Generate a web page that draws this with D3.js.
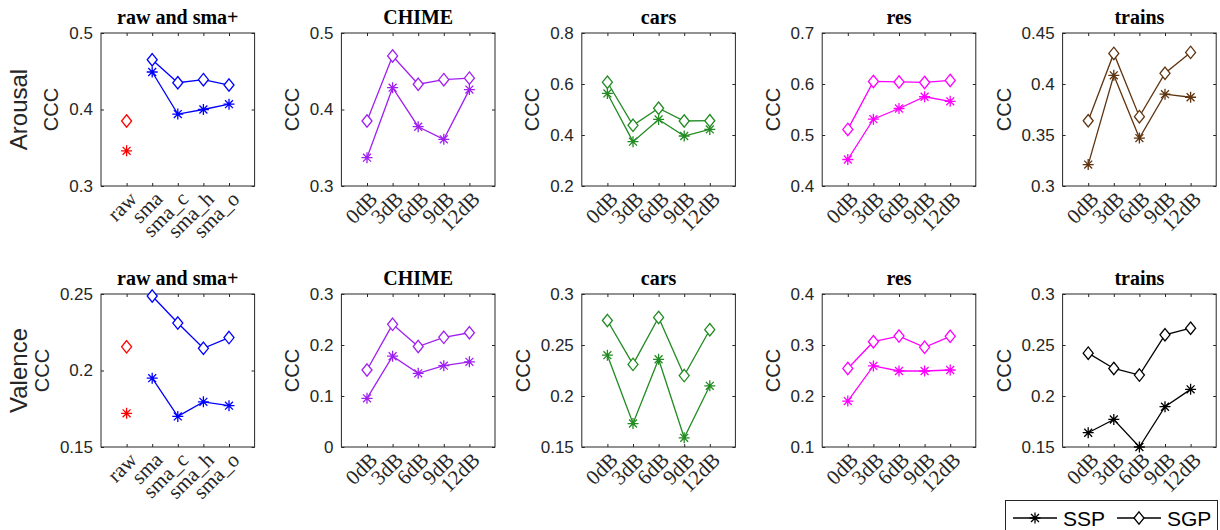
<!DOCTYPE html>
<html lang="en">
<head>
  <meta charset="UTF-8">
  <title>CCC per noise type</title>
  <script src="https://cdn.jsdelivr.net/npm/d3@7"></script>
  <style>
  body { margin: 0; background: #fff; }
  .tick line { stroke: #262626; }
  .ytick text { font-family: "Liberation Sans", Arial, sans-serif; font-size: 17px; fill: #262626; }
  .xtick text { font-family: "Liberation Serif", "Times New Roman", serif; font-size: 21px; fill: #262626; }
  .title { font-family: "Liberation Serif", "Times New Roman", serif; font-size: 20px; font-weight: bold; fill: #000; }
  .ylab { font-family: "Liberation Sans", Arial, sans-serif; font-size: 20px; fill: #262626; }
  .rowlab { font-family: "Liberation Sans", Arial, sans-serif; font-size: 24px; fill: #262626; }
  .legend text { font-family: "Liberation Sans", Arial, sans-serif; font-size: 21px; fill: #000; }
  </style>
</head>
<body>
<svg id="chart" width="1220" height="530"></svg>
<script>
// panel titles and x categories
const panelTitles = ['raw and sma+', 'CHIME', 'cars', 'res', 'trains'];
const rawSmaLabels = ['raw', 'sma', 'sma_c', 'sma_h', 'sma_o'];
const snrLabels = ['0dB', '3dB', '6dB', '9dB', '12dB'];
const rowLabels = ['Arousal', 'Valence'];

// y tick values per panel
const arousalTicks = [[0.3, 0.4, 0.5], [0.3, 0.4, 0.5], [0.2, 0.4, 0.6, 0.8], [0.4, 0.5, 0.6, 0.7], [0.3, 0.35, 0.4, 0.45]];
const valenceTicks = [[0.15, 0.2, 0.25], [0, 0.1, 0.2, 0.3], [0.15, 0.2, 0.25, 0.3], [0.1, 0.2, 0.3, 0.4], [0.15, 0.2, 0.25, 0.3]];

// Arousal (first panel: raw, then sma variants)
const arousalSSP = [
  [0.346, 0.449, 0.394, 0.400, 0.407],
  [0.337, 0.4285, 0.3775, 0.361, 0.426],
  [0.563, 0.374, 0.461, 0.396, 0.422],
  [0.452, 0.531, 0.552, 0.575, 0.566],
  [0.321, 0.4085, 0.347, 0.390, 0.387]
];
const arousalSGP = [
  [0.385, 0.465, 0.435, 0.439, 0.432],
  [0.385, 0.470, 0.433, 0.439, 0.441],
  [0.607, 0.438, 0.505, 0.455, 0.456],
  [0.511, 0.605, 0.604, 0.603, 0.607],
  [0.364, 0.430, 0.368, 0.4105, 0.431]
];
// Valence
const valenceSSP = [
  [0.172, 0.195, 0.170, 0.1795, 0.177],
  [0.0955, 0.178, 0.1445, 0.1595, 0.167],
  [0.240, 0.173, 0.236, 0.159, 0.210],
  [0.190, 0.259, 0.249, 0.249, 0.251],
  [0.164, 0.177, 0.150, 0.1895, 0.2065]
];
const valenceSGP = [
  [0.2155, 0.2487, 0.231, 0.2145, 0.2215],
  [0.151, 0.2405, 0.197, 0.215, 0.224],
  [0.274, 0.231, 0.277, 0.220, 0.265],
  [0.254, 0.3065, 0.3175, 0.2955, 0.317],
  [0.242, 0.227, 0.2205, 0.260, 0.2665]
];

const arousalColors = ['#0000ff', '#a020f0', '#228b22', '#ff00ff', '#5f3410'];
const valenceColors = ['#0000ff', '#a020f0', '#228b22', '#ff00ff', '#000000'];
const rawColor = '#ff0000';

const svg = d3.select('#chart');
const axisColor = '#262626';
const panelW = 153.6, panelH = 153;
const lefts = d3.range(5).map(i => 101 + i * 240.4);
const tops = [33, 294];

// marker drawers
const star = (g, cx, cy, color) => {
  const r = 5.5, d = r * 0.72;
  g.append('path')
    .attr('d', `M${cx - r},${cy}H${cx + r}M${cx},${cy - r}V${cy + r}` +
      `M${cx - d},${cy - d}L${cx + d},${cy + d}M${cx - d},${cy + d}L${cx + d},${cy - d}`)
    .attr('stroke', color).attr('stroke-width', 1.3).attr('fill', 'none');
};
const diamond = (g, cx, cy, color) => {
  const w = 5, h = 6.2;
  g.append('path')
    .attr('d', `M${cx},${cy - h}L${cx + w},${cy}L${cx},${cy + h}L${cx - w},${cy}Z`)
    .attr('stroke', color).attr('stroke-width', 1.3).attr('fill', '#fff');
};

const rows = [
  { ticks: arousalTicks, ssp: arousalSSP, sgp: arousalSGP, colors: arousalColors },
  { ticks: valenceTicks, ssp: valenceSSP, sgp: valenceSGP, colors: valenceColors }
];

rows.forEach((row, r) => {
  const top = tops[r];
  panelTitles.forEach((title, c) => {
    const left = lefts[c];
    const g = svg.append('g');
    const x = d3.scaleLinear().domain([0, 6]).range([left, left + panelW]);
    const y = d3.scaleLinear().domain(d3.extent(row.ticks[c])).range([top + panelH, top]);
    const labels = c === 0 ? rawSmaLabels : snrLabels;
    const fmt = d3.format('~g');

    // y axes (ticks inside)
    const yl = g.append('g').attr('class', 'ytick')
      .attr('transform', `translate(${left},0)`)
      .call(d3.axisLeft(y).tickValues(row.ticks[c]).tickSizeInner(-3).tickSizeOuter(0).tickPadding(8).tickFormat(fmt));
    yl.select('.domain').remove();
    g.append('g').attr('transform', `translate(${left + panelW},0)`)
      .call(d3.axisRight(y).tickValues(row.ticks[c]).tickSizeInner(-3).tickSizeOuter(0).tickFormat(''))
      .select('.domain').remove();

    // x axes
    const xb = g.append('g').attr('class', 'xtick')
      .attr('transform', `translate(0,${top + panelH})`)
      .call(d3.axisBottom(x).tickValues([1, 2, 3, 4, 5]).tickSizeInner(-3).tickSizeOuter(0)
        .tickFormat(i => labels[i - 1]));
    xb.select('.domain').remove();
    xb.selectAll('text')
      .attr('x', 0).attr('y', 0).attr('dy', '0.62em')
      .attr('text-anchor', 'end')
      .attr('transform', 'translate(2,5) rotate(-45)');
    g.append('g').attr('transform', `translate(0,${top})`)
      .call(d3.axisTop(x).tickValues([1, 2, 3, 4, 5]).tickSizeInner(-3).tickSizeOuter(0).tickFormat(''))
      .select('.domain').remove();

    // box
    g.append('rect')
      .attr('x', left).attr('y', top).attr('width', panelW).attr('height', panelH)
      .attr('fill', 'none').attr('stroke', axisColor).attr('stroke-width', 1);

    // title
    g.append('text').attr('class', 'title')
      .attr('x', left + panelW / 2).attr('y', top - 9)
      .attr('text-anchor', 'middle')
      .text(title);

    // y label, placed left of widest tick label
    let maxW = 0;
    yl.selectAll('text').each(function() { maxW = Math.max(maxW, this.getComputedTextLength()); });
    const yLabX = left - 8 - maxW - 18;
    g.append('text').attr('class', 'ylab')
      .attr('transform', `translate(${yLabX},${top + panelH / 2}) rotate(-90)`)
      .attr('text-anchor', 'middle').attr('dominant-baseline', 'central')
      .text('CCC');

    // data lines
    const color = row.colors[c];
    const start = c === 0 ? 1 : 0; // raw point is not joined
    const line = d3.line().x(d => x(d[0])).y(d => y(d[1]));
    [row.ssp[c], row.sgp[c]].forEach(vals => {
      const pts = vals.map((v, i) => [i + 1, v]).slice(start);
      g.append('path').attr('d', line(pts))
        .attr('fill', 'none').attr('stroke', color).attr('stroke-width', 1.3);
    });
    row.ssp[c].forEach((v, i) => star(g, x(i + 1), y(v), c === 0 && i === 0 ? rawColor : color));
    row.sgp[c].forEach((v, i) => diamond(g, x(i + 1), y(v), c === 0 && i === 0 ? rawColor : color));
  });

  // row label
  svg.append('text').attr('class', 'rowlab')
    .attr('transform', `translate(18,${top + panelH / 2}) rotate(-90)`)
    .attr('text-anchor', 'middle').attr('dominant-baseline', 'central')
    .text(rowLabels[r]);
});

// legend
const lg = svg.append('g').attr('class', 'legend');
lg.append('rect').attr('x', 1005.5).attr('y', 500.5).attr('width', 212).attr('height', 40)
  .attr('fill', '#fff').attr('stroke', axisColor).attr('stroke-width', 1);
const legendY = 518;
[['SSP', 1013, star], ['SGP', 1117, diamond]].forEach(([name, x0, mark]) => {
  lg.append('line').attr('x1', x0).attr('x2', x0 + 44).attr('y1', legendY).attr('y2', legendY)
    .attr('stroke', '#000').attr('stroke-width', 1.3);
  mark(lg, x0 + 22, legendY, '#000');
  lg.append('text').attr('x', x0 + 50).attr('y', legendY).attr('dominant-baseline', 'central').text(name);
});
</script>
</body>
</html>
